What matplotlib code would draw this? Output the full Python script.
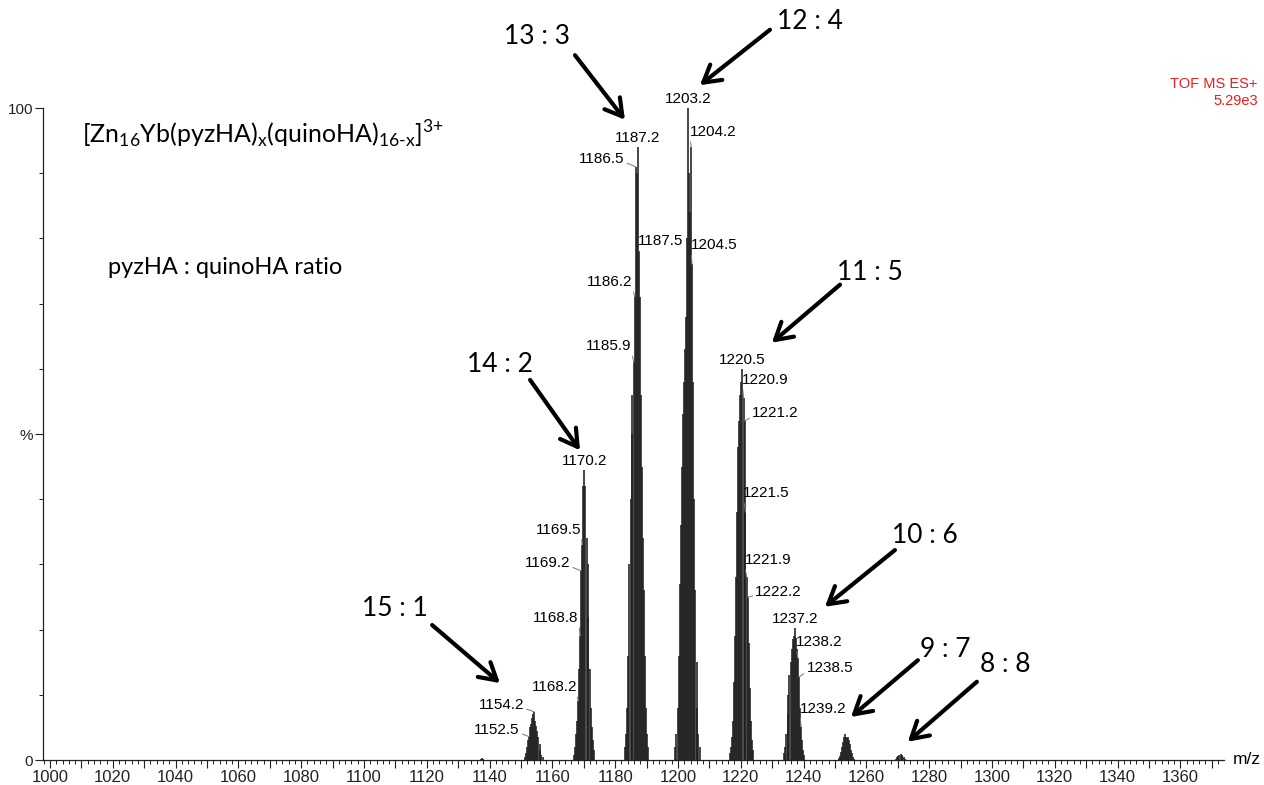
import matplotlib
matplotlib.use("Agg")
import matplotlib.pyplot as plt
from matplotlib.ticker import MultipleLocator, FuncFormatter

# isotope clusters, m/z and relative intensity (%)
blip_mz = [1137.2, 1137.5, 1137.9]
blip_h = [0.2, 0.3, 0.2]

c15_1_mz = [1151.2, 1151.5, 1151.9, 1152.2, 1152.5, 1152.9, 1153.2, 1153.5, 1153.9, 1154.2,
            1154.5, 1154.9, 1155.2, 1155.5, 1155.9, 1156.2, 1156.5, 1156.9]
c15_1_h = [0.5, 1.0, 2.0, 3.0, 3.6, 5.0, 5.5, 6.5, 7.0, 7.4, 6.0, 5.2, 4.5, 3.5, 2.5, 1.5, 0.8, 0.4]

c14_2_mz = [1166.9, 1167.2, 1167.5, 1167.9, 1168.2, 1168.5, 1168.8, 1169.2, 1169.5, 1169.9,
            1170.2, 1170.5, 1170.9, 1171.2, 1171.5, 1171.9, 1172.2, 1172.5, 1172.9, 1173.2]
c14_2_h = [0.8, 2, 4, 6, 9, 14, 19, 29, 33, 42, 44.5, 42, 34, 30, 22, 14, 8, 5, 3, 1.5]

c13_3_mz = [1183.2, 1183.5, 1183.9, 1184.2, 1184.5, 1184.9, 1185.2, 1185.5, 1185.9, 1186.2,
            1186.5, 1186.9, 1187.2, 1187.5, 1187.9, 1188.2, 1188.5, 1188.9, 1189.2, 1189.5,
            1189.9, 1190.2, 1190.5]
c13_3_h = [2, 4, 8, 16, 30, 40, 50, 56, 61, 71, 91, 90, 94, 78, 71, 56, 45, 34, 26, 16, 8, 4, 2]

c12_4_mz = [1199.2, 1199.5, 1199.9, 1200.2, 1200.5, 1200.9, 1201.2, 1201.5, 1201.9, 1202.2,
            1202.5, 1202.9, 1203.2, 1203.5, 1203.9, 1204.2, 1204.5, 1204.9, 1205.2, 1205.5,
            1205.9, 1206.2, 1206.5, 1206.9]
c12_4_h = [2, 4, 8, 16, 27, 36, 45, 53, 58, 63, 68, 80, 100, 90, 84, 94, 76, 58, 40, 26, 15, 8, 4, 2]

c11_5_mz = [1216.5, 1216.9, 1217.2, 1217.5, 1217.9, 1218.2, 1218.5, 1218.9, 1219.2, 1219.5,
            1219.9, 1220.2, 1220.5, 1220.9, 1221.2, 1221.5, 1221.9, 1222.2, 1222.5, 1222.9,
            1223.2, 1223.5, 1223.9]
c11_5_h = [1, 2, 3.5, 6, 12, 19, 28, 38, 48, 52, 56, 58, 60, 55.5, 52, 38, 28, 25, 18, 11, 6, 3, 1.5]

c10_6_mz = [1233.9, 1234.2, 1234.5, 1234.9, 1235.2, 1235.5, 1235.9, 1236.2, 1236.5, 1236.9,
            1237.2, 1237.5, 1237.9, 1238.2, 1238.5, 1238.9, 1239.2, 1239.5, 1239.9, 1240.2]
c10_6_h = [1, 2, 4, 7, 10, 13, 15, 17, 18.5, 19, 20.2, 18.7, 17, 15.6, 12.7, 8, 5.1, 3, 1.5, 0.7]

c9_7_mz = [1251.2, 1251.5, 1251.9, 1252.2, 1252.5, 1252.9, 1253.2, 1253.5, 1253.9, 1254.2,
           1254.5, 1254.9, 1255.2, 1255.5, 1255.9, 1256.2]
c9_7_h = [0.3, 0.6, 1.2, 2, 2.8, 3.5, 4, 3.6, 3.3, 3.5, 3.0, 2.4, 1.6, 1, 0.5, 0.2]

c8_8_mz = [1269.5, 1269.9, 1270.2, 1270.5, 1270.9, 1271.2, 1271.5, 1271.9, 1272.2]
c8_8_h = [0.2, 0.4, 0.6, 0.8, 0.85, 0.8, 0.6, 0.4, 0.2]

all_mz = blip_mz + c15_1_mz + c14_2_mz + c13_3_mz + c12_4_mz + c11_5_mz + c10_6_mz + c9_7_mz + c8_8_mz
all_h = blip_h + c15_1_h + c14_2_h + c13_3_h + c12_4_h + c11_5_h + c10_6_h + c9_7_h + c8_8_h
height_of = dict(zip(all_mz, all_h))

# labelled peaks
peak_labels = [1203.2, 1187.2, 1220.5, 1237.2, 1170.2,
               1186.5, 1204.2, 1187.5, 1204.5, 1186.2, 1185.9,
               1220.9, 1221.2, 1221.5, 1221.9, 1222.2,
               1238.2, 1238.5, 1239.2,
               1169.5, 1169.2, 1168.8, 1168.2,
               1154.2, 1152.5]
# text offset from peak top, pixels (0, 0 means straight above)
label_offsets = [(0, 0), (0, 0), (0, 0), (0, 0), (0, 0),
                 (-34, 8), (22, 15), (22, 10), (22, 19), (-25, 15), (-25, 16),
                 (22, 18), (31, 8), (21, 19), (21, 17), (31, 5),
                 (21, 16), (31, 9), (22, 18),
                 (-24, 15), (-34, 8), (-24, 18), (-24, 14),
                 (-33, 7), (-32, 7)]

ratio_texts = ["15 : 1", "14 : 2", "13 : 3", "12 : 4", "11 : 5", "10 : 6", "9 : 7", "8 : 8"]
ratio_text_pos = [(1109.9, 23.3), (1143.3, 60.6), (1155.1, 110.9), (1242.0, 113.2),
                  (1261.1, 74.8), (1278.7, 34.5), (1285.0, 16.9), (1304.1, 14.6)]
ratio_arrows = [((1121.7, 20.7), (1143.3, 11.8)),
                ((1152.9, 58.3), (1168.8, 47.5)),
                ((1167.2, 108.1), (1183.1, 98.2)),
                ((1229.3, 112.0), (1207.0, 103.5)),
                ((1251.6, 72.9), (1229.9, 64.0)),
                ((1269.1, 32.2), (1246.8, 23.5)),
                ((1276.4, 15.3), (1255.1, 6.6)),
                ((1295.2, 12.0), (1273.2, 2.8))]

plt.rcParams["font.family"] = ["Liberation Sans", "DejaVu Sans"]
plt.rcParams["mathtext.fontset"] = "custom"
plt.rcParams["mathtext.rm"] = "Lato"

W, H = 1264, 785
fig = plt.figure(figsize=(W / 100, H / 100), dpi=100)
ax = fig.add_axes([43 / W, 25 / H, 1181 / W, 652 / H])

ax.vlines(all_mz, 0, all_h, color="#1e1e1e", lw=1.15)

ax.set_xlim(997.77, 1373.9)
ax.set_ylim(0, 100)
ax.spines["top"].set_visible(False)
ax.spines["right"].set_visible(False)
for s in ["left", "bottom"]:
    ax.spines[s].set_linewidth(0.9)
    ax.spines[s].set_color("#222222")

ax.xaxis.set_major_locator(MultipleLocator(10))
ax.xaxis.set_minor_locator(MultipleLocator(2))
ax.xaxis.set_major_formatter(FuncFormatter(lambda v, p: f"{v:.0f}" if round(v) % 20 == 0 else ""))
ax.tick_params(axis="x", which="major", length=6, width=0.8, labelsize=12, pad=1, colors="#222222")
ax.tick_params(axis="x", which="minor", length=3, width=0.7, colors="#222222")

ax.set_yticks([0, 50, 100])
ax.set_yticklabels(["0", "%", "100"])
ax.yaxis.set_minor_locator(MultipleLocator(10))
ax.tick_params(axis="y", which="major", length=6, width=0.8, labelsize=11, pad=1, colors="#222222")
ax.tick_params(axis="y", which="minor", length=3, width=0.7, colors="#222222")

ax.text(1.0 + 9 / 1181, 0, "m/z", transform=ax.transAxes, fontsize=12.5, va="center", ha="left")

for mz, (dx, dy) in zip(peak_labels, label_offsets):
    h = height_of[mz]
    if dx == 0 and dy == 0:
        ax.annotate(f"{mz:.1f}", xy=(mz, h), xytext=(0, 2), textcoords="offset pixels",
                    ha="center", va="bottom", fontsize=11, annotation_clip=False)
    else:
        rel = (1, 0.25) if dx < 0 else (0, 0.25)
        ax.annotate(f"{mz:.1f}", xy=(mz, h), xytext=(dx, dy), textcoords="offset pixels",
                    ha="center", va="center", fontsize=11, annotation_clip=False,
                    arrowprops=dict(arrowstyle="-", color="#777777", lw=0.7,
                                    shrinkA=0, shrinkB=0, relpos=rel))

for txt, pos, (tail, head) in zip(ratio_texts, ratio_text_pos, ratio_arrows):
    ax.text(pos[0], pos[1], txt, fontsize=19, family="Lato", ha="center", va="center", clip_on=False)
    ax.annotate("", xy=head, xytext=tail, annotation_clip=False,
                arrowprops=dict(arrowstyle="->,head_length=0.6,head_width=0.35", lw=3,
                                color="black", shrinkA=0, shrinkB=0, mutation_scale=20))

fig.text(82 / W, 1 - 143 / H,
         r"[Zn$_\mathrm{16}$Yb(pyzHA)$_\mathrm{x}$(quinoHA)$_\mathrm{16\text{-}x}$]$^\mathrm{3{+}}$",
         fontsize=18, family="Lato", ha="left", va="baseline")
fig.text(108 / W, 1 - 268 / H, "pyzHA : quinoHA ratio", fontsize=17, family="Lato",
         ha="left", va="center")

fig.text(1258 / W, 1 - 84 / H, "TOF MS ES+", color="#ee1c1c", fontsize=10.5, ha="right", va="center")
fig.text(1258 / W, 1 - 101 / H, "5.29e3", color="#ee1c1c", fontsize=10.5, ha="right", va="center")

fig.savefig("out.png", dpi=100)
